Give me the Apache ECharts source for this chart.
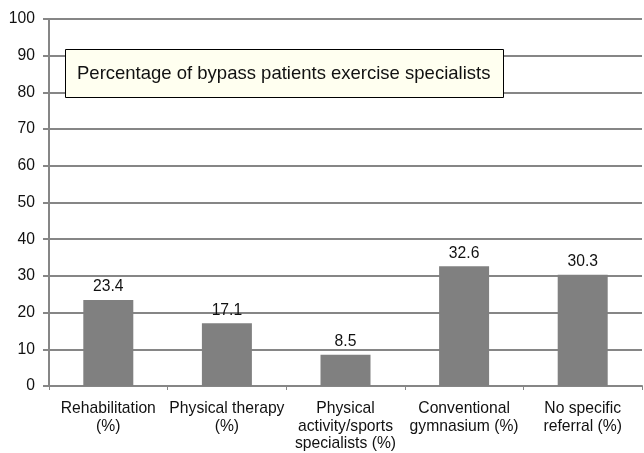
<!DOCTYPE html>
<html>
<head>
<meta charset="utf-8">
<script src="https://cdn.jsdelivr.net/npm/echarts@6/dist/echarts.min.js"></script>
<style>
  html, body { margin: 0; padding: 0; background: #fff; }
  #chart { width: 644px; height: 453px; }
</style>
</head>
<body>
<div id="chart"></div>
<script>
// categories and values
const categories = [
  'Rehabilitation\n(%)',
  'Physical therapy\n(%)',
  'Physical\nactivity/sports\nspecialists (%)',
  'Conventional\ngymnasium (%)',
  'No specific\nreferral (%)'
];
const values = [23.4, 17.1, 8.5, 32.6, 30.3];
const yTicks = [0, 10, 20, 30, 40, 50, 60, 70, 80, 90, 100];
const chartTitle = 'Percentage of bypass patients exercise specialists';

const lineColor = '#868686';
const font = "'Liberation Sans', Arial, sans-serif";

const chart = echarts.init(document.getElementById('chart'));
chart.setOption({
  animation: false,
  textStyle: { fontFamily: font },
  title: {
    text: chartTitle,
    left: 65,
    top: 49,
    padding: [15, 13, 15, 12],
    backgroundColor: '#fffff0',
    borderColor: '#000',
    borderWidth: 1,
    textStyle: {
      fontFamily: font,
      fontSize: 18.5,
      fontWeight: 'normal',
      color: '#111'
    }
  },
  grid: { left: 49, right: 2, top: 19, bottom: 67, containLabel: false },
  xAxis: {
    type: 'category',
    data: categories,
    axisLine: { lineStyle: { color: lineColor, width: 2 } },
    axisTick: { show: true, length: 4, lineStyle: { color: lineColor, width: 1 } },
    axisLabel: {
      color: '#111',
      fontSize: 15.7,
      lineHeight: 17.5,
      margin: 14,
      interval: 0
    }
  },
  yAxis: {
    type: 'value',
    min: yTicks[0],
    max: yTicks[yTicks.length - 1],
    interval: 10,
    axisLine: { show: true, lineStyle: { color: lineColor, width: 2 } },
    axisTick: { show: true, length: 6, lineStyle: { color: lineColor, width: 2 } },
    axisLabel: { color: '#111', fontSize: 15.7, margin: 14 },
    splitLine: { show: true, lineStyle: { color: lineColor, width: 2 } }
  },
  series: [{
    type: 'bar',
    data: values,
    barWidth: 50,
    itemStyle: { color: '#808080' },
    label: {
      show: true,
      position: 'top',
      distance: 5,
      color: '#111',
      fontSize: 15.7,
      formatter: p => p.value.toFixed(1)
    }
  }]
});
</script>
</body>
</html>
